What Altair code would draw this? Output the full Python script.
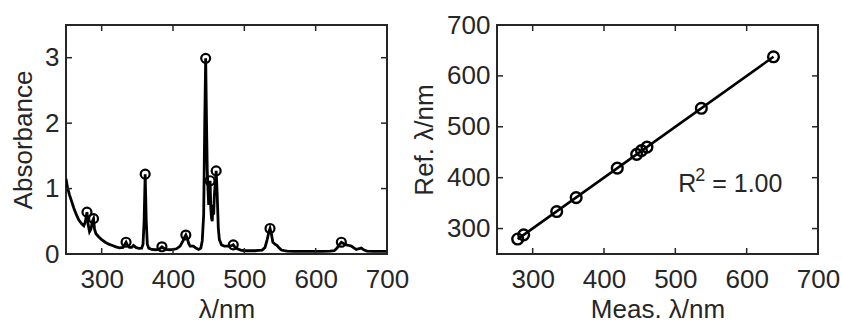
import altair as alt
import pandas as pd

# ---------------- data ----------------
wavelength = [250, 252, 255, 258, 261, 265, 268, 272, 275, 277, 279.4, 281, 283, 285, 287, 288.6,
              290, 292, 296, 300, 305, 310, 315, 320, 325, 330, 332, 334.2, 336, 339, 342, 344.6,
              348, 352, 356, 358, 359.5, 361, 362.5, 364, 366, 370, 375, 380, 382.5, 384.5, 386.5,
              390, 395, 400, 405, 410, 414, 416, 418, 420, 422, 424, 428.6, 432, 436, 439, 441,
              443, 444.5, 445.8, 447, 448, 449, 450, 451, 452, 453, 454, 455, 456, 457, 458, 459,
              460.5, 462, 463.5, 465, 468, 472, 476, 480, 482.5, 484.5, 486.5, 490, 495, 500, 505,
              510, 515, 520, 525, 529, 532, 534.5, 536, 538, 540, 543, 546, 549, 552, 556, 560,
              570, 580, 590, 600, 610, 620, 626, 630, 633, 636, 639, 643, 647, 650, 654, 657, 660,
              664, 668, 672, 680, 690, 700]
absorbance = [1.15, 1.02, 0.9, 0.8, 0.7, 0.59, 0.52, 0.46, 0.43, 0.49, 0.64, 0.45, 0.34, 0.38, 0.5, 0.54,
              0.38, 0.31, 0.26, 0.22, 0.18, 0.15, 0.13, 0.11, 0.095, 0.1, 0.14, 0.18, 0.14, 0.1, 0.1, 0.13,
              0.1, 0.085, 0.09, 0.15, 0.5, 1.22, 0.5, 0.15, 0.09, 0.07, 0.065, 0.07, 0.09, 0.11, 0.09,
              0.07, 0.065, 0.07, 0.08, 0.12, 0.2, 0.25, 0.29, 0.24, 0.16, 0.12, 0.12, 0.09, 0.07, 0.09, 0.2,
              0.6, 2.0, 2.99, 2.0, 1.3, 1.0, 0.75, 0.95, 1.12, 0.7, 0.55, 0.5, 0.75, 0.6, 0.9, 1.05,
              1.27, 0.9, 0.4, 0.22, 0.14, 0.12, 0.12, 0.12, 0.13, 0.14, 0.11, 0.08, 0.06, 0.05, 0.05,
              0.05, 0.05, 0.055, 0.06, 0.1, 0.22, 0.34, 0.39, 0.3, 0.18, 0.15, 0.13, 0.09, 0.06, 0.05, 0.045,
              0.04, 0.04, 0.04, 0.04, 0.04, 0.045, 0.05, 0.09, 0.14, 0.18, 0.16, 0.14, 0.13, 0.12, 0.09, 0.07, 0.08,
              0.09, 0.06, 0.045, 0.04, 0.04, 0.04]

peak_wl = [279.4, 288.6, 334.2, 361, 384.5, 418, 445.8, 452, 460.5, 484.5, 536, 636]
peak_abs = [0.64, 0.54, 0.18, 1.22, 0.11, 0.29, 2.99, 1.12, 1.27, 0.14, 0.39, 0.18]

meas_wl = [279.0, 287.4, 333.7, 361.0, 418.6, 445.8, 452.5, 460.2, 536.5, 637.6]
ref_wl = [279.4, 287.6, 333.4, 360.9, 418.7, 445.8, 453.2, 460.0, 536.3, 637.5]

x_ticks = [300, 400, 500, 600, 700]
y_ticks_left = [0, 1, 2, 3]
y_ticks_right = [300, 400, 500, 600, 700]

r2_text = "R"
r2_sup = "2"
r2_rest = "= 1.00"
r2_pos = [504, 372]

# ---------------- style ----------------
FONT = "Liberation Sans"
TXT = "#262626"
FRAME = "#262626"
W, H = 321, 229
TICK = 6

spec = pd.DataFrame({"wl": wavelength, "A": absorbance})
peaks = pd.DataFrame({"wl": peak_wl, "A": peak_abs})
cal = pd.DataFrame({"meas": meas_wl, "ref": ref_wl})


def inner_ticks(xvals, yvals, xscale, yscale):
    xt = pd.DataFrame({"v": xvals})
    yt = pd.DataFrame({"v": yvals})
    base_x = alt.Chart(xt).mark_rule(color=FRAME, strokeWidth=1.5)
    base_y = alt.Chart(yt).mark_rule(color=FRAME, strokeWidth=1.5)
    return [
        base_x.encode(x=alt.X("v:Q", scale=xscale), y=alt.value(H), y2=alt.value(H - TICK)),
        base_x.encode(x=alt.X("v:Q", scale=xscale), y=alt.value(0), y2=alt.value(TICK)),
        base_y.encode(y=alt.Y("v:Q", scale=yscale), x=alt.value(0), x2=alt.value(TICK)),
        base_y.encode(y=alt.Y("v:Q", scale=yscale), x=alt.value(W), x2=alt.value(W - TICK)),
    ]


# ---------------- left panel ----------------
xs1 = alt.Scale(domain=[250, 700], nice=False, zero=False)
ys1 = alt.Scale(domain=[0, 3.5], nice=False, zero=False)
xax = dict(values=x_ticks, format="d", labelFlush=False, labelOverlap=False, labelPadding=12, titlePadding=4)

line = alt.Chart(spec).mark_line(color="black", strokeWidth=2.8, clip=True).encode(
    x=alt.X("wl:Q", scale=xs1, title="λ/nm", axis=alt.Axis(**xax)),
    y=alt.Y("A:Q", scale=ys1, title="Absorbance",
            axis=alt.Axis(values=y_ticks_left, format="d", labelPadding=7, titlePadding=8)),
    order="wl:Q",
)
pk = alt.Chart(peaks).mark_point(shape="circle", filled=False, color="black", strokeWidth=2.2,
                                 size=80, opacity=1).encode(
    x=alt.X("wl:Q", scale=xs1), y=alt.Y("A:Q", scale=ys1))

left = alt.layer(line, pk, *inner_ticks(x_ticks, y_ticks_left, xs1, ys1)).properties(width=W, height=H)

# ---------------- right panel ----------------
xs2 = alt.Scale(domain=[250, 700], nice=False, zero=False)
ys2 = alt.Scale(domain=[250, 700], nice=False, zero=False)

fit = alt.Chart(cal).transform_regression("meas", "ref").mark_line(color="black", strokeWidth=2.6).encode(
    x=alt.X("meas:Q", scale=xs2, title="Meas. λ/nm", axis=alt.Axis(**xax)),
    y=alt.Y("ref:Q", scale=ys2, title="Ref. λ/nm",
            axis=alt.Axis(values=y_ticks_right, format="d", labelPadding=7, titlePadding=9)),
)
pts = alt.Chart(cal).mark_point(shape="circle", filled=False, color="black", strokeWidth=2.4,
                                size=115, opacity=1).encode(
    x=alt.X("meas:Q", scale=xs2), y=alt.Y("ref:Q", scale=ys2))

ann = pd.DataFrame({"x": [r2_pos[0]], "y": [r2_pos[1]]})
tbase = alt.Chart(ann).encode(x=alt.X("x:Q", scale=xs2), y=alt.Y("y:Q", scale=ys2))
t1 = tbase.mark_text(text=r2_text, align="left", baseline="alphabetic", font=FONT, fontSize=25, color=TXT)
t2 = tbase.mark_text(text=r2_sup, align="left", baseline="alphabetic", font=FONT, fontSize=18,
                     color=TXT, dx=17, dy=-11)
t3 = tbase.mark_text(text=r2_rest, align="left", baseline="alphabetic", font=FONT, fontSize=25,
                     color=TXT, dx=34)

right = alt.layer(fit, pts, t1, t2, t3, *inner_ticks(x_ticks, y_ticks_right, xs2, ys2)).properties(
    width=W, height=H)

chart = alt.hconcat(left, right, spacing=110, bounds="flush").properties(
    padding={"left": 9, "top": 11, "right": 0, "bottom": 0},
    background="white",
).configure_view(stroke=FRAME, strokeWidth=2).configure_axis(
    labelFont=FONT, titleFont=FONT, labelFontSize=26, titleFontSize=26,
    labelColor=TXT, titleColor=TXT, titleFontWeight="normal",
    grid=False, domain=False, ticks=False,
)

chart.save("out.html", embed_options={"renderer": "svg", "actions": False})
